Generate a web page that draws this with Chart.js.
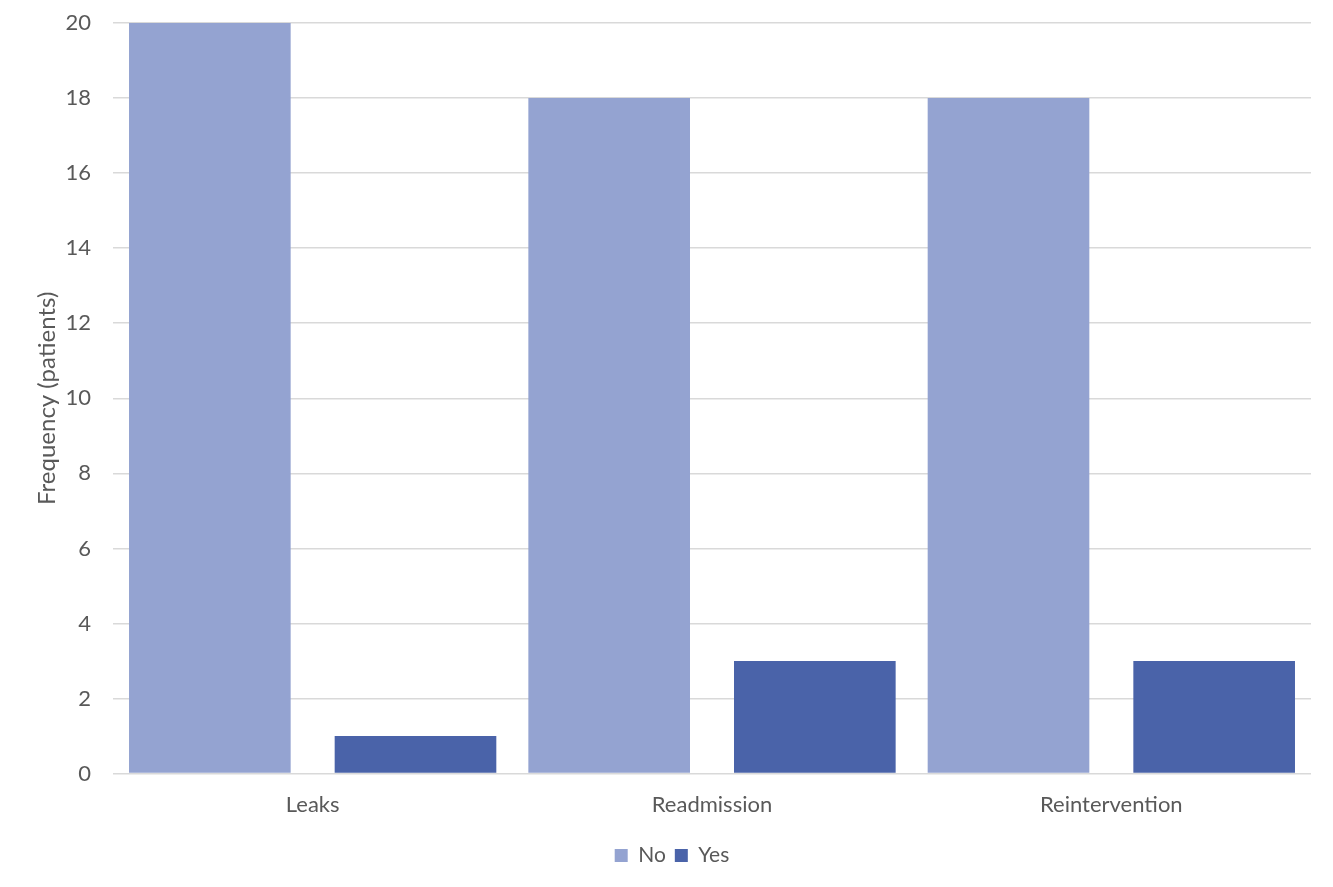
<!DOCTYPE html>
<html>
<head>
<meta charset="utf-8">
<script src="https://cdn.jsdelivr.net/npm/chart.js@4/dist/chart.umd.min.js"></script>
<style>
    html, body { margin: 0; padding: 0; background: #fff; }
    #wrap { width: 1333px; height: 887px; }
</style>
</head>
<body>
<div id="wrap"><canvas id="chart"></canvas></div>
<script>
// Data
const categories = ['Leaks', 'Readmission', 'Reintervention'];
const noValues = [20, 18, 18];
const yesValues = [1, 3, 3];
const yTicks = [0, 2, 4, 6, 8, 10, 12, 14, 16, 18, 20];

const textColor = '#595959';
const fontFamily = 'Lato, "Open Sans", sans-serif';

const ctx = document.getElementById('chart').getContext('2d');
new Chart(ctx, {
    type: 'bar',
    data: {
        labels: categories,
        datasets: [
            {
                label: 'No',
                data: noValues,
                backgroundColor: '#94A3D1',
                categoryPercentage: 1.03,
                barPercentage: 0.786
            },
            {
                label: 'Yes',
                data: yesValues,
                backgroundColor: '#4A63A9',
                categoryPercentage: 1.03,
                barPercentage: 0.786
            }
        ]
    },
    options: {
        responsive: true,
        maintainAspectRatio: false,
        animation: false,
        layout: {
            padding: { top: 23, right: 22, left: 33, bottom: 11 }
        },
        plugins: {
            tooltip: { enabled: false },
            legend: {
                position: 'bottom',
                labels: {
                    color: textColor,
                    font: { family: fontFamily, size: 21 },
                    boxWidth: 13,
                    boxHeight: 13,
                    padding: 9
                }
            }
        },
        scales: {
            x: {
                grid: { display: false, drawTicks: false },
                border: { display: false },
                ticks: {
                    color: textColor,
                    font: { family: fontFamily, size: 22 },
                    padding: 18
                }
            },
            y: {
                min: 0,
                max: 20,
                afterBuildTicks: axis => {
                    axis.ticks = yTicks.map(v => ({ value: v }));
                },
                afterFit: axis => {
                    // match the reference's axis width and let the top label overhang
                    axis.width = 80;
                    axis.paddingTop = 0;
                },
                grid: { color: '#D9D9D9', lineWidth: 1.5, drawTicks: false },
                border: { display: false },
                ticks: {
                    color: textColor,
                    font: { family: fontFamily, size: 22 },
                    padding: 22
                },
                title: {
                    display: true,
                    text: 'Frequency (patients)',
                    color: textColor,
                    font: { family: fontFamily, size: 24 },
                    padding: { top: 0, bottom: 8 }
                }
            }
        }
    }
});
</script>
</body>
</html>
